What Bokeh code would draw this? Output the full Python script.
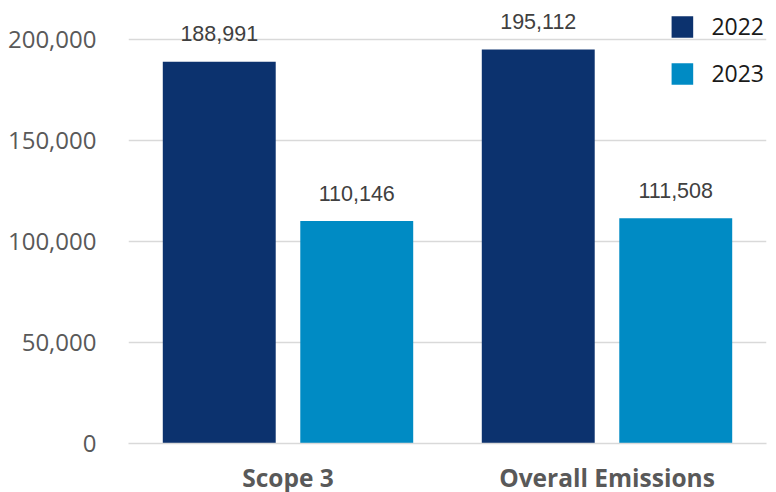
from bokeh.plotting import figure
from bokeh.models import ColumnDataSource, FactorRange, Range1d, LabelSet, Legend, LegendItem, NumeralTickFormatter, FixedTicker
from bokeh.transform import dodge
from bokeh.core.properties import value
from bokeh.embed import file_html
from bokeh.resources import INLINE

categories = ["Scope 3", "Overall Emissions"]
values_2022 = [188991, 195112]
values_2023 = [110146, 111508]
series_names = ["2022", "2023"]
y_ticks = [0, 50000, 100000, 150000, 200000]

color_2022 = "#0C326E"
color_2023 = "#008BC4"

src = ColumnDataSource(dict(
    cat=categories,
    v22=values_2022,
    v23=values_2023,
    l22=[f"{v:,}" for v in values_2022],
    l23=[f"{v:,}" for v in values_2023],
))

p = figure(
    x_range=FactorRange(factors=categories, range_padding=0),
    y_range=Range1d(0, 215350),
    frame_width=638, frame_height=435,
    min_border_left=128, min_border_right=1, min_border_top=8, min_border_bottom=49,
    output_backend="svg", toolbar_location=None,
)
p.outline_line_color = None
p.background_fill_color = "white"

off = 0.2155
bw = 0.354
r22 = p.vbar(x=dodge("cat", -off, range=p.x_range), top="v22", width=bw, source=src,
             fill_color=color_2022, line_color=None)
r23 = p.vbar(x=dodge("cat", off, range=p.x_range), top="v23", width=bw, source=src,
             fill_color=color_2023, line_color=None)

lab_kw = dict(text_font=value("Liberation Sans"), text_font_size=value("21.5px"),
              text_color=value("#404040"),
              text_align="center", text_baseline="middle", y_offset=28)
p.add_layout(LabelSet(x=dodge("cat", -off, range=p.x_range), y="v22", text="l22", source=src, **lab_kw))
p.add_layout(LabelSet(x=dodge("cat", off, range=p.x_range), y="v23", text="l23", source=src, **lab_kw))

# axes
p.yaxis.ticker = FixedTicker(ticks=y_ticks)
p.yaxis.formatter = NumeralTickFormatter(format="0,0")
p.yaxis.axis_line_color = None
p.yaxis.major_tick_line_color = None
p.yaxis.minor_tick_line_color = None
p.yaxis.major_label_text_font = "Open Sans"
p.yaxis.major_label_text_font_size = "24px"
p.yaxis.major_label_text_color = "#595959"
p.yaxis.major_label_standoff = 26

p.xaxis.axis_line_color = "#D9D9D9"
p.xaxis.axis_line_width = 1.5
p.xaxis.major_tick_line_color = None
p.xaxis.minor_tick_line_color = None
p.xaxis.major_label_text_font = "Open Sans"
p.xaxis.major_label_text_font_style = "bold"
p.xaxis.major_label_text_font_size = "24.5px"
p.xaxis.major_label_text_color = "#595959"
p.xaxis.major_label_standoff = 11

p.xgrid.grid_line_color = None
p.ygrid.grid_line_color = "#D9D9D9"
p.ygrid.grid_line_width = 1.5

legend = Legend(items=[LegendItem(label=series_names[0], renderers=[r22]),
                       LegendItem(label=series_names[1], renderers=[r23])],
                location="top_right", glyph_width=27, glyph_height=27, label_height=27,
                label_standoff=16, spacing=15, padding=2, margin=0,
                border_line_alpha=0, background_fill_alpha=0,
                label_text_font="Open Sans", label_text_font_size="23px",
                label_text_color="#1A1A1A")
p.add_layout(legend, "center")

open("out.html", "w").write(file_html(p, INLINE))
